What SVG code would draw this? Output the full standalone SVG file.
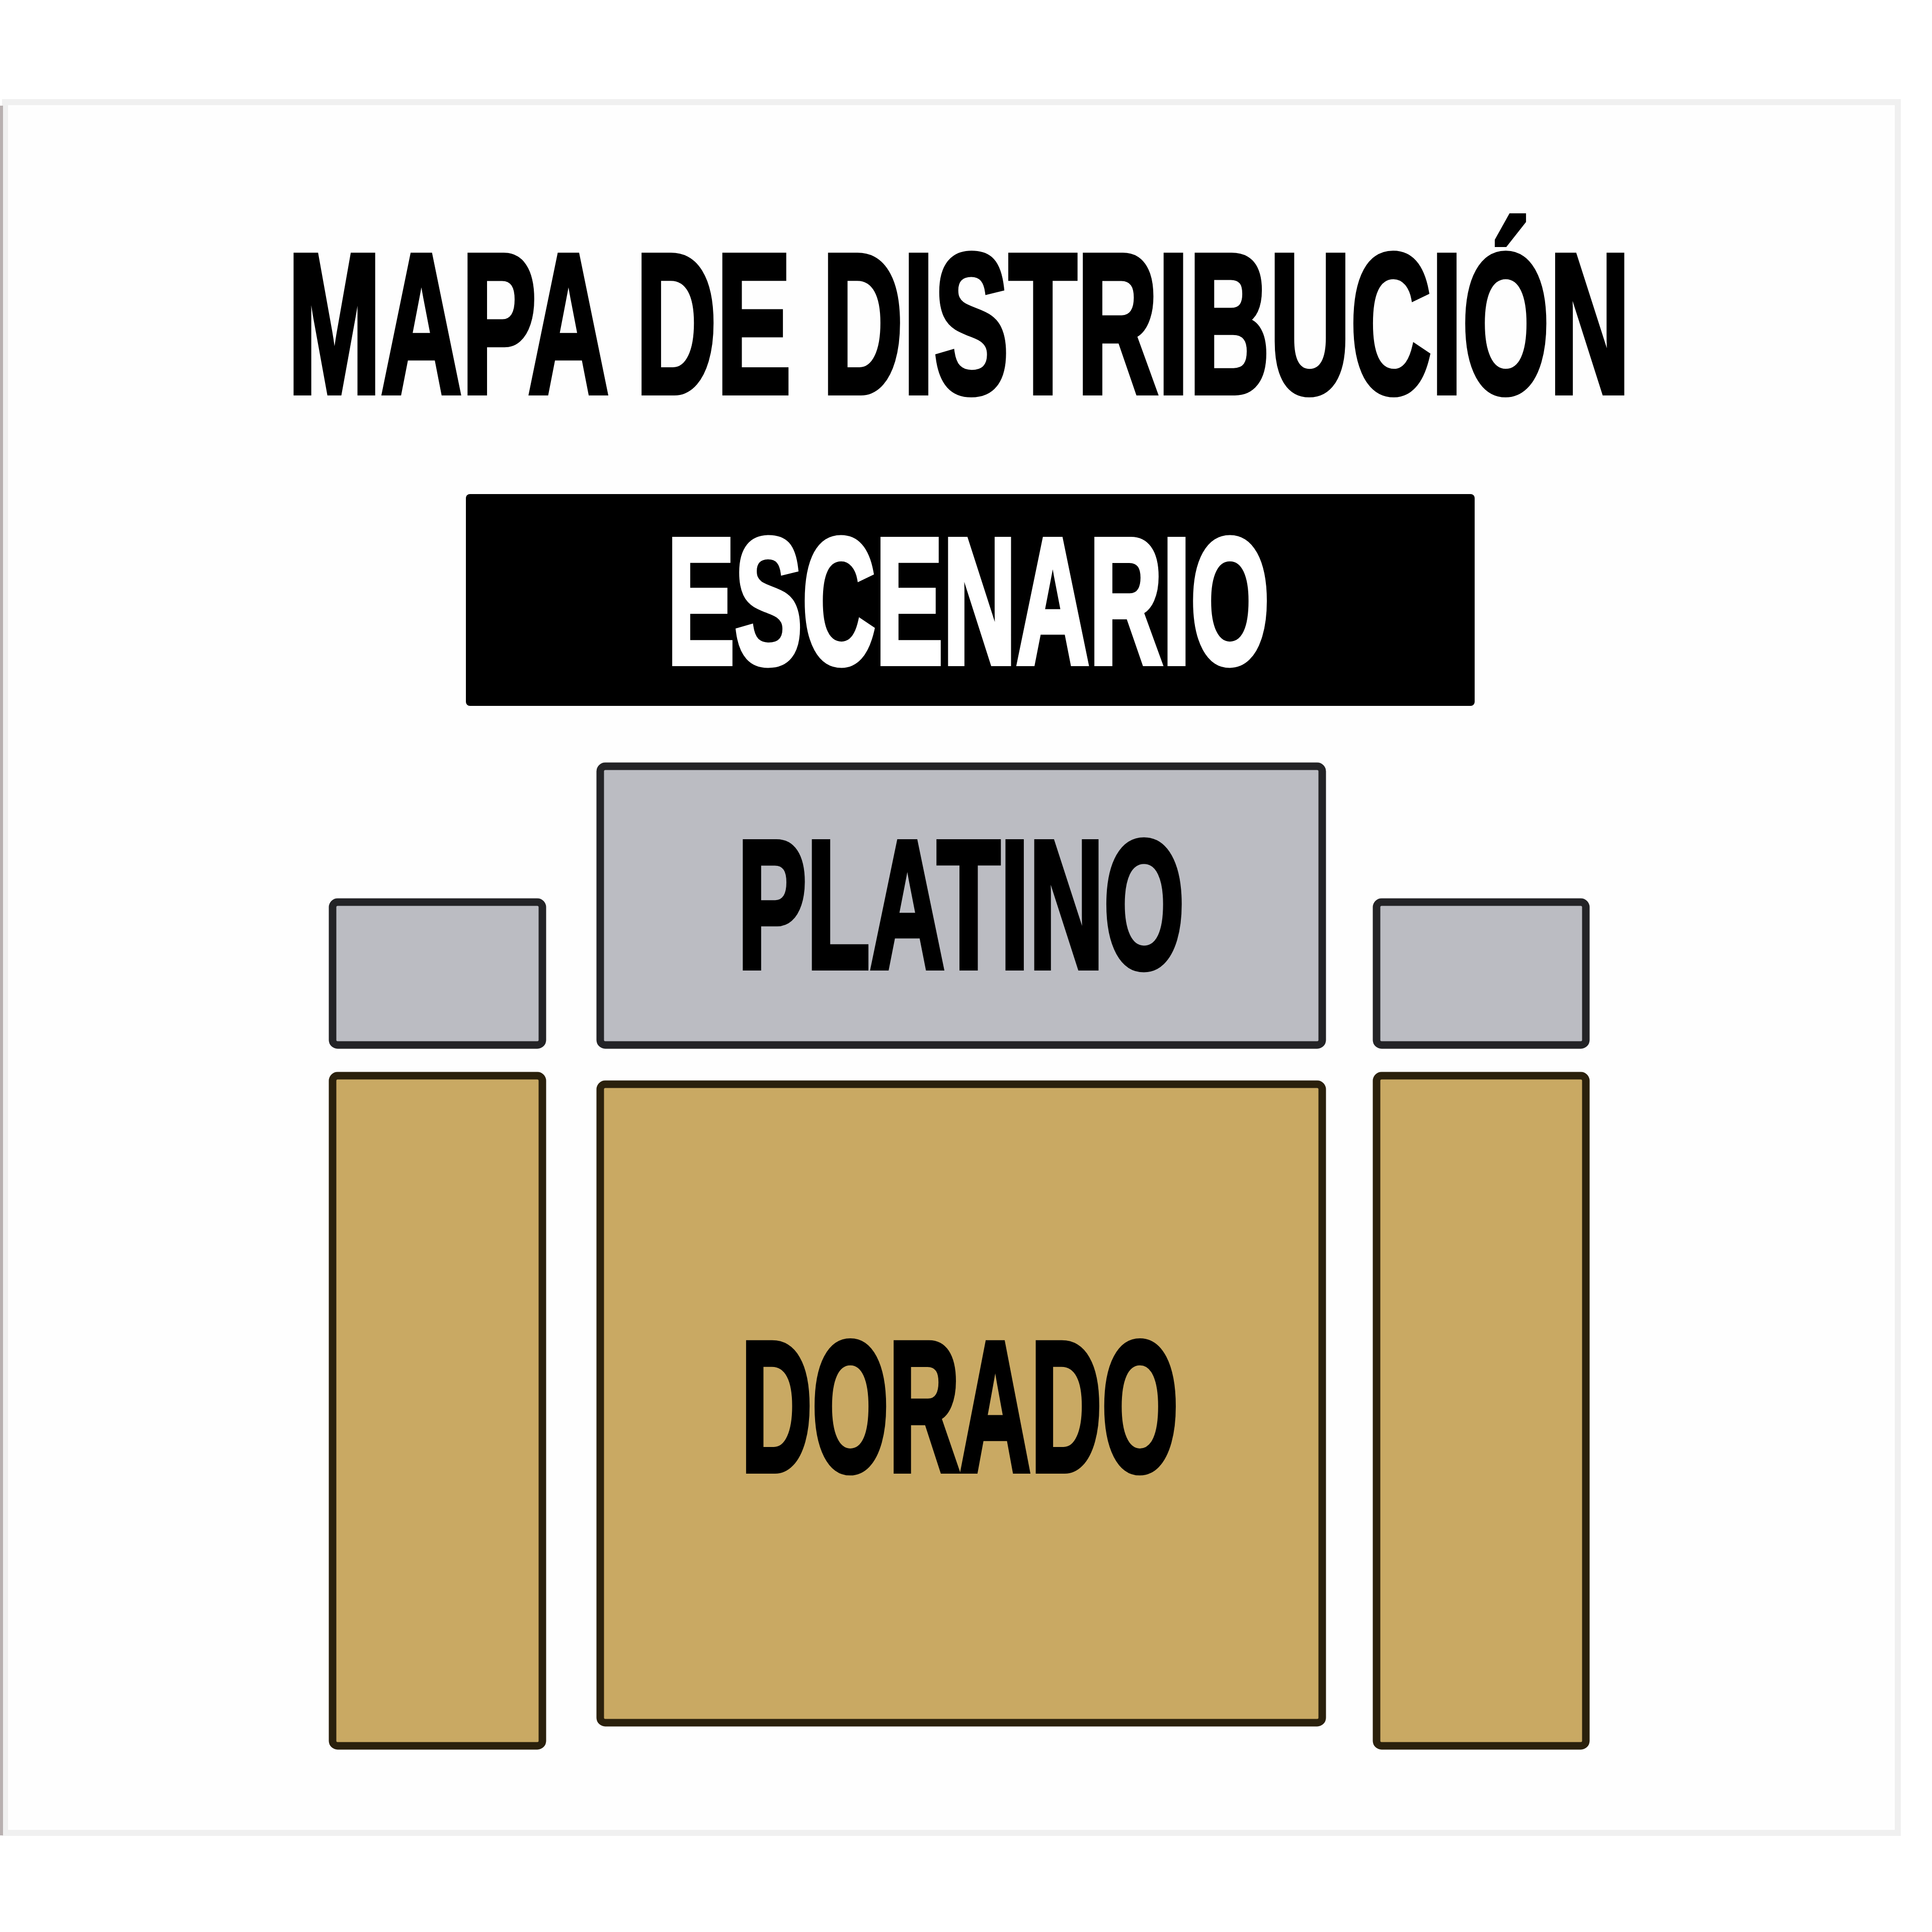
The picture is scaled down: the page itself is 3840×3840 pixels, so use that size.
<svg xmlns="http://www.w3.org/2000/svg" width="3840" height="3840" viewBox="0 0 3840 3840">
<style>
.t{font-family:"Liberation Sans Narrow","Liberation Sans",Arial,sans-serif;font-weight:bold;text-anchor:start;stroke-width:12;stroke-linejoin:miter}
.k{fill:#000;stroke:#000}
.w{fill:#fff;stroke:#fff}
.gray{fill:#bbbcc2;stroke:#232326;stroke-width:15}
.gold{fill:#c9a963;stroke:#2a200c;stroke-width:15}
</style>
<rect x="0" y="0" width="3840" height="3840" fill="#ffffff"/>
<g id="frame">
<rect x="10" y="203" width="3762" height="3440" fill="#fefefe" stroke="#f0f0f0" stroke-width="12"/>
<line x1="3" y1="210" x2="3" y2="3648" stroke="#b8b0b0" stroke-width="6"/>
</g>
<g id="title">
<text class="t k" x="572" y="780" font-size="395" textLength="2668" lengthAdjust="spacingAndGlyphs">MAPA DE DISTRIBUCIÓN</text>
</g>
<g id="escenario">
<rect x="926" y="982" width="2005" height="421" rx="8" fill="#000"/>
<text class="t w" x="1326" y="1318" font-size="356" textLength="1197" lengthAdjust="spacingAndGlyphs">ESCENARIO</text>
</g>
<g id="platino">
<rect class="gray" x="1193" y="1523" width="1435" height="554" rx="10"/>
<text class="t k" x="1466" y="1923" font-size="362" textLength="888" lengthAdjust="spacingAndGlyphs">PLATINO</text>
</g>
<g id="gray-left">
<rect class="gray" x="661" y="1793" width="417" height="284" rx="10"/>
</g>
<g id="gray-right">
<rect class="gray" x="2736" y="1793" width="416" height="284" rx="10"/>
</g>
<g id="gold-left">
<rect class="gold" x="661" y="2138" width="417" height="1332" rx="10"/>
</g>
<g id="dorado">
<rect class="gold" x="1193" y="2155" width="1435" height="1269" rx="10"/>
<text class="t k" x="1473" y="2923" font-size="368" textLength="869" lengthAdjust="spacingAndGlyphs">DORADO</text>
</g>
<g id="gold-right">
<rect class="gold" x="2736" y="2138" width="416" height="1332" rx="10"/>
</g>
<g id="connectors"></g>
</svg>
